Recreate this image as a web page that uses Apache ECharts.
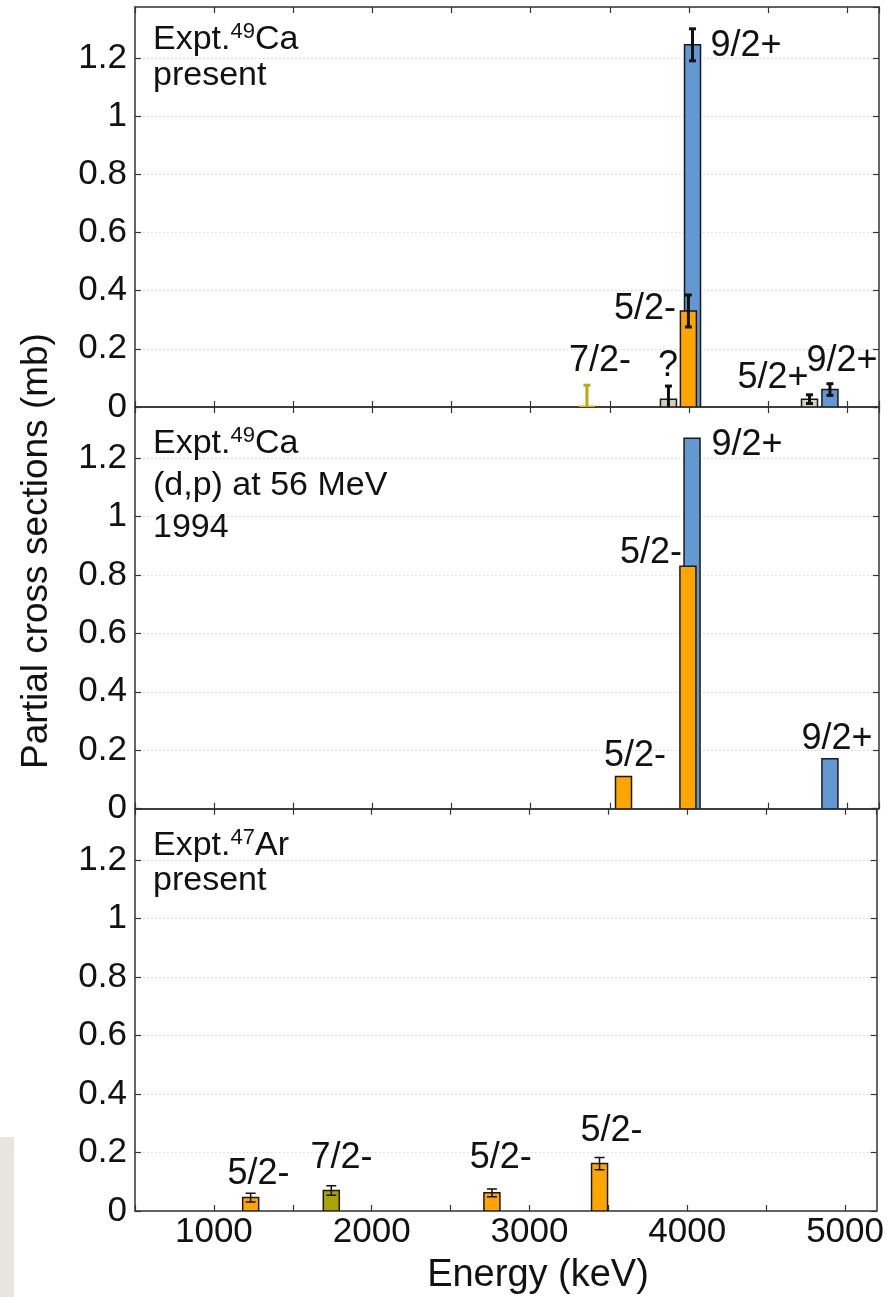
<!DOCTYPE html>
<html><head><meta charset="utf-8">
<script src="https://cdn.jsdelivr.net/npm/echarts@6/dist/echarts.min.js"></script>
<style>html,body{margin:0;padding:0;background:#fff}#c{width:887px;height:1297px}</style>
</head><body><div id="c"></div>
<script>
// ---------------- data ----------------
const xTickLabels = [1000, 2000, 3000, 4000, 5000];
const yTickLabels = [0, 0.2, 0.4, 0.6, 0.8, 1, 1.2];

// Panel 1: Expt. 49Ca present
const topEnergy = [3355, 3870, 3996, 4022, 4761, 4890];
const topValue  = [0, 0.027, 0.33, 1.245, 0.027, 0.06];
const topError  = [0.075, 0.045, 0.055, 0.055, 0.015, 0.02];
const topSpin   = ['7/2-', '?', '5/2-', '9/2+', '5/2+', '9/2+'];
const topLabelText   = ['7/2-', '?', '5/2-', '9/2+', '5/2+', '9/2+'];
const topLabelEnergy = [3437, 3867, 3722, 4360, 4530, 4966];
const topLabelValue  = [0.158, 0.14, 0.336, 1.240, 0.099, 0.158];

// Panel 2: Expt. 49Ca (d,p) at 56 MeV 1994
const midEnergy = [3586, 3993, 4019, 4890];
const midValue  = [0.11, 0.83, 1.268, 0.171];
const midSpin   = ['5/2-', '5/2-', '9/2+', '9/2+'];
const midLabelText   = ['5/2-', '5/2-', '9/2+', '9/2+'];
const midLabelEnergy = [3659, 3760, 4366, 4935];
const midLabelValue  = [0.18, 0.876, 1.246, 0.239];

// Panel 3: Expt. 47Ar present
const botEnergy = [1233, 1744, 2762, 3444];
const botValue  = [0.046, 0.07, 0.062, 0.162];
const botError  = [0.015, 0.016, 0.013, 0.021];
const botSpin   = ['5/2-', '7/2-', '5/2-', '5/2-'];
const botLabelText   = ['5/2-', '7/2-', '5/2-', '5/2-'];
const botLabelEnergy = [1283, 1808, 2818, 3520];
const botLabelValue  = [0.127, 0.182, 0.182, 0.274];

// ---------------- style ----------------
const FONT = '"Liberation Sans", Arial, Helvetica, sans-serif';
const spinColor = {'5/2-': '#ffa500', '9/2+': '#6398d2', '7/2-': '#aaa400', '?': '#cfcfbd', '5/2+': '#d3d3c3'};
const AX = '#333';
const XMIN = 500, XMAX = 5200, YMAX = 1.375;

const grids = [
  {left: 135, right: 8, top: 7, height: 400},
  {left: 135, right: 8, top: 407, height: 401.7},
  {left: 135, right: 8, top: 808.7, height: 402.3}
];

function isMult(v, step) { return Math.abs(v / step - Math.round(v / step)) < 1e-6; }

const xAxes = [], yAxes = [];
grids.forEach((g, i) => {
  const common = {
    gridIndex: i, type: 'value', min: XMIN, max: XMAX, interval: 500,
    axisLine: {show: true, onZero: false, lineStyle: {color: AX, width: 1.5}},
    axisTick: {show: true, inside: true, length: 6, lineStyle: {color: AX, width: 1.2}},
    splitLine: {show: false}
  };
  xAxes.push(Object.assign({}, common, {
    position: 'bottom',
    axisLabel: {show: i === 2, interval: 0, margin: 4, color: '#111', fontSize: 35, fontFamily: FONT,
      showMaxLabel: false,
      formatter: v => (xTickLabels.indexOf(v) >= 0 ? String(v) : '')}
  }));
  xAxes.push(Object.assign({}, common, {position: 'top', axisLabel: {show: false}}));
  const ycommon = {
    gridIndex: i, type: 'value', min: 0, max: YMAX, interval: 0.2,
    axisLine: {show: true, onZero: false, lineStyle: {color: AX, width: 1.5}},
    axisTick: {show: true, inside: true, length: 6, lineStyle: {color: AX, width: 1.2}}
  };
  yAxes.push(Object.assign({}, ycommon, {
    position: 'left',
    splitLine: {show: true, lineStyle: {color: '#d4d4d4', type: [1.5, 2.5], width: 1}},
    axisLabel: {show: true, margin: 8, color: '#111', fontSize: 35, fontFamily: FONT, showMaxLabel: false,
      formatter: v => {
        if (!isMult(v, 0.2)) return '';
        const r = Math.round(v * 10) / 10;
        return yTickLabels.indexOf(r) >= 0 ? String(r) : '';
      }}
  }));
  yAxes.push(Object.assign({}, ycommon, {position: 'right', splitLine: {show: false}, axisLabel: {show: false}}));
});

function barRender(spins) {
  return function (params, api) {
    const e = api.value(0), v = api.value(1);
    const p1 = api.coord([e, v]), p0 = api.coord([e, 0]);
    const w = 16;
    const col = spinColor[spins[params.dataIndex]];
    return {
      type: 'rect', z2: Math.round(1000 - v * 500),
      shape: {x: p1[0] - w / 2, y: p1[1], width: w, height: p0[1] - p1[1]},
      style: {fill: col, stroke: v === 0 ? '#e8b000' : '#1a1a1a', lineWidth: v === 0 ? 3 : 1.5}
    };
  };
}
function errRender(spins, values, lw, cap) {
  return function (params, api) {
    const e = api.value(0), v = api.value(1), er = api.value(2);
    const hi = api.coord([e, v + er]), lo = api.coord([e, v - er]);
    const col = values[params.dataIndex] === 0 ? '#b8aa10' : '#111';
    const st = {stroke: col, lineWidth: lw};
    return {type: 'group', children: [
      {type: 'line', shape: {x1: hi[0], y1: hi[1], x2: lo[0], y2: lo[1]}, style: st},
      {type: 'line', shape: {x1: hi[0] - cap, y1: hi[1], x2: hi[0] + cap, y2: hi[1]}, style: st},
      {type: 'line', shape: {x1: lo[0] - cap, y1: lo[1], x2: lo[0] + cap, y2: lo[1]}, style: st}
    ]};
  };
}
function labelRender(texts) {
  return function (params, api) {
    const p = api.coord([api.value(0), api.value(1)]);
    return {type: 'text', x: p[0], y: p[1],
      style: {text: texts[params.dataIndex], font: '36px ' + FONT, fill: '#111',
        align: 'center', verticalAlign: 'middle', textAlign: 'center', textVerticalAlign: 'middle'}};
  };
}

const panels = [
  {E: topEnergy, V: topValue, Err: topError, S: topSpin, LT: topLabelText, LE: topLabelEnergy, LV: topLabelValue, lw: 3, cap: 3.5},
  {E: midEnergy, V: midValue, Err: null, S: midSpin, LT: midLabelText, LE: midLabelEnergy, LV: midLabelValue},
  {E: botEnergy, V: botValue, Err: botError, S: botSpin, LT: botLabelText, LE: botLabelEnergy, LV: botLabelValue, lw: 1.5, cap: 5}
];

const series = [];
panels.forEach((p, i) => {
  series.push({type: 'custom', xAxisIndex: 2 * i, yAxisIndex: 2 * i, clip: true, z: 3,
    renderItem: barRender(p.S), encode: {x: 0, y: 1},
    data: p.E.map((e, k) => [e, p.V[k]])});
  if (p.Err) {
    series.push({type: 'custom', xAxisIndex: 2 * i, yAxisIndex: 2 * i, clip: true, z: 4,
      renderItem: errRender(p.S, p.V, p.lw, p.cap), encode: {x: 0, y: 1},
      data: p.E.map((e, k) => [e, p.V[k], p.Err[k]])});
  }
  series.push({type: 'custom', xAxisIndex: 2 * i, yAxisIndex: 2 * i, clip: false, z: 5,
    renderItem: labelRender(p.LT), encode: {x: 0, y: 1},
    data: p.LE.map((e, k) => [e, p.LV[k]])});
});

const rich = {
  a: {fontSize: 34, fontFamily: FONT, color: '#111', lineHeight: 38},
  s: {fontSize: 22, fontFamily: FONT, color: '#111', lineHeight: 22, verticalAlign: 'top'}
};
function titleText(x, y, str) {
  return {type: 'text', x: x, y: y, z: 100,
    style: {text: str, font: '34px ' + FONT, fill: '#111', rich: rich,
      align: 'left', verticalAlign: 'middle', textAlign: 'left', textVerticalAlign: 'middle'}};
}
function plainText(x, y, str) {
  return {type: 'text', x: x, y: y, z: 100,
    style: {text: str, font: '34px ' + FONT, fill: '#111',
      align: 'left', verticalAlign: 'middle', textAlign: 'left', textVerticalAlign: 'middle'}};
}

const graphic = [
  {type: 'rect', shape: {x: 0, y: 1137, width: 14, height: 160}, style: {fill: '#e6e6df'}, z: 0},
  titleText(153, 40, '{a|Expt.}{s|49}{a|Ca}'),
  plainText(153, 76, 'present'),
  titleText(153, 444, '{a|Expt.}{s|49}{a|Ca}'),
  plainText(153, 486, '(d,p) at 56 MeV'),
  plainText(153, 528, '1994'),
  titleText(153, 846, '{a|Expt.}{s|47}{a|Ar}'),
  plainText(153, 881, 'present'),
  {type: 'text', x: 538, y: 1276, z: 100,
    style: {text: 'Energy (keV)', font: '38px ' + FONT, fill: '#111',
      align: 'center', verticalAlign: 'middle', textAlign: 'center', textVerticalAlign: 'middle'}},
  {type: 'text', x: 37, y: 551, rotation: Math.PI / 2, z: 100,
    style: {text: 'Partial cross sections (mb)', font: '37px ' + FONT, fill: '#111',
      align: 'center', verticalAlign: 'middle', textAlign: 'center', textVerticalAlign: 'middle'}}
];

const chart = echarts.init(document.getElementById('c'), null, {renderer: 'canvas'});
chart.setOption({
  animation: false,
  backgroundColor: '#fff',
  grid: grids,
  xAxis: xAxes,
  yAxis: yAxes,
  series: series,
  graphic: graphic
});
</script></body></html>
